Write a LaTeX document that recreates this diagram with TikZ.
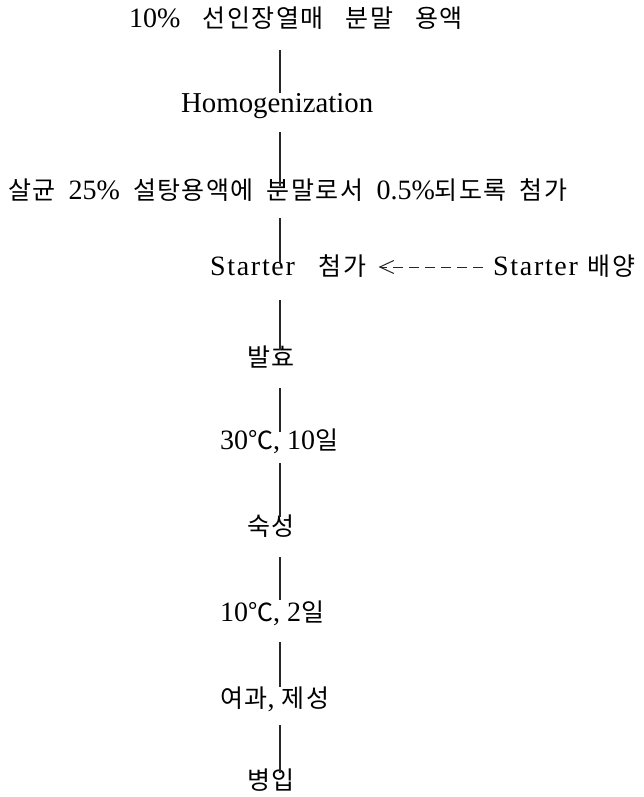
\documentclass[tikz,border=0pt]{standalone}
\usepackage{fontspec}
\setmainfont{Liberation Serif}
\newfontfamily\krfont[LetterSpace=6]{Noto Sans CJK KR}
\usetikzlibrary{arrows.meta}
\newcommand{\kor}[1]{{\krfont\fontsize{25}{28}\selectfont #1}}
\newcommand{\wsp}[1]{\hspace{#1pt}}
\newcommand{\starterword}{{\addfontfeature{LetterSpace=6}Starter}}
\tikzset{
  lbl/.style={anchor=base west, inner sep=0pt, text height=20pt, text depth=4pt,
              font=\fontsize{28}{30}\selectfont, text=black},
  vline/.style={draw=black!85, line width=1.3pt},
  feed/.style={draw=black!85, line width=1pt, dash pattern=on 10pt off 6pt,
               -{Straight Barb[length=14pt,width=13pt,line width=1pt]}}
}
\begin{document}
\begin{tikzpicture}[x=1pt,y=-1pt]
\useasboundingbox[fill=white] (0,0) rectangle (643,797);
\coordinate (X) at (280,0);
\node[lbl] (n1) at (129,28) {10\%\wsp{22}\kor{선인장열매}\wsp{22}\kor{분말}\wsp{22}\kor{용액}};
\node[lbl, font=\fontsize{28.8}{30}\selectfont] (n2) at (181,113) {Homogenization};
\node[lbl] (n3) at (8,199) {\kor{살균}\wsp{13}25\%\wsp{13}\kor{설탕용액에}\wsp{13}\kor{분말로서}\wsp{13}0.5\%\kor{되도록}\wsp{13}\kor{첨가}};
\node[lbl] (st1) at (210,275) {\starterword\wsp{24}\kor{첨가}};
\node[lbl] (st2) at (493,275) {\starterword\wsp{10}\kor{배양}};
\node[lbl] (n5) at (247,366) {\kor{발효}};
\node[lbl] (n6) at (220,449) {30\kor{℃}, 10\kor{일}};
\node[lbl] (n7) at (247,535) {\kor{숙성}};
\node[lbl] (n8) at (220,621) {10\kor{℃}, 2\kor{일}};
\node[lbl] (n9) at (220,707) {\kor{여과}, \kor{제성}};
\node[lbl] (n10) at (247,789) {\kor{병입}};
\draw[vline, shorten <=18pt, shorten >=0pt] (n1.south -| X) -- (n2.north -| X);
\draw[vline, shorten <=15pt, shorten >=-7pt] (n2.south -| X) -- (n3.north -| X);
\draw[vline, shorten <=15pt, shorten >=-8pt] (n3.south -| X) -- (st1.north -| X);
\draw[vline, shorten <=21pt, shorten >=-4pt] (st1.south -| X) -- (n5.north -| X);
\draw[vline, shorten <=18pt, shorten >=-3pt] (n5.south -| X) -- (n6.north -| X);
\draw[vline, shorten <=10pt, shorten >=-2pt] (n6.south -| X) -- (n7.north -| X);
\draw[vline, shorten <=18pt, shorten >=1pt] (n7.south -| X) -- (n8.north -| X);
\draw[vline, shorten <=17pt, shorten >=0pt] (n8.south -| X) -- (n9.north -| X);
\draw[vline, shorten <=14pt, shorten >=-4pt] (n9.south -| X) -- (n10.north -| X);
\draw[feed, shorten <=10pt, shorten >=12pt] ([yshift=8pt]st2.base west) -- ([yshift=8pt]st1.base east);
\end{tikzpicture}
\end{document}
